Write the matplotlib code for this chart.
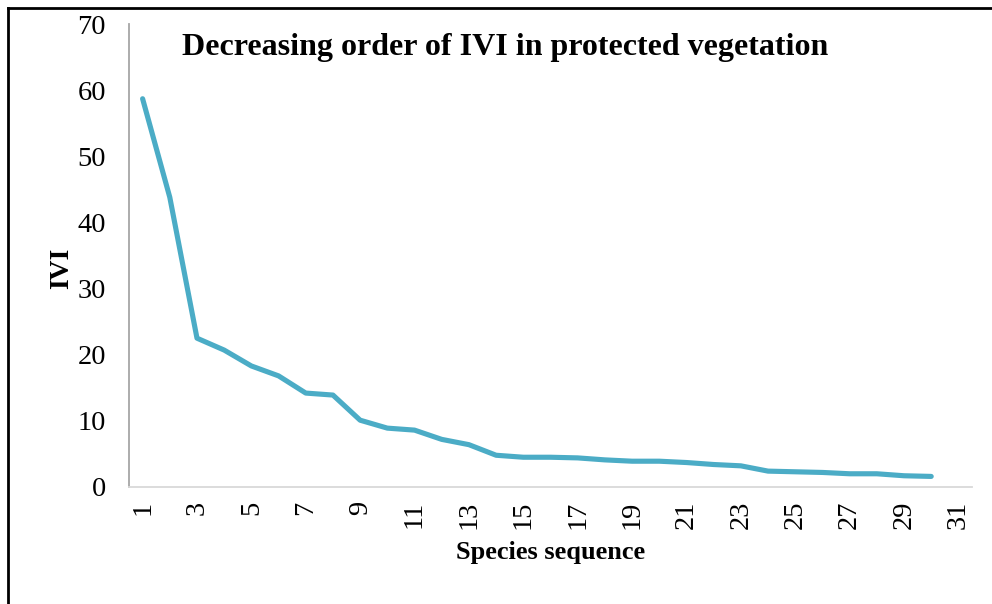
import matplotlib
matplotlib.use("Agg")
import matplotlib.pyplot as plt
from matplotlib.lines import Line2D

species = list(range(1, 31))
ivi = [58.7, 43.8, 22.5, 20.7, 18.3, 16.8, 14.2, 13.9, 10.1, 8.9,
       8.6, 7.2, 6.4, 4.8, 4.5, 4.5, 4.4, 4.1, 3.9, 3.9,
       3.7, 3.4, 3.2, 2.4, 2.3, 2.2, 2.0, 2.0, 1.7, 1.6]
xticks = list(range(1, 32, 2))
yticks = list(range(0, 71, 10))
title = "Decreasing order of IVI in protected vegetation"
xlabel = "Species sequence"
ylabel = "IVI"

plt.rcParams['font.family'] = ['Liberation Serif', 'DejaVu Serif']

fig = plt.figure(figsize=(9.92, 6.04), dpi=100)
W, H = 992, 604
ax = fig.add_axes([129 / W, 1 - 487 / H, (972 - 129) / W, (487 - 24) / H])

ax.plot(species, ivi, color='#4BACC6', linewidth=3.7, solid_capstyle='round',
        solid_joinstyle='round')
ax.set_xlim(0.5, 31.5)
ax.set_ylim(0, 70)
ax.set_xticks(xticks)
ax.set_xticklabels([str(t) for t in xticks], rotation=90, fontsize=20.5)
ax.set_yticks(yticks)
ax.set_yticklabels([str(t) for t in yticks], fontsize=20.5)
ax.tick_params(length=0)
ax.tick_params(axis='x', pad=10)
ax.tick_params(axis='y', pad=16.5)

for s in ['top', 'right']:
    ax.spines[s].set_visible(False)
ax.spines['left'].set_color('#A6A6A6')
ax.spines['bottom'].set_color('#D9D9D9')
ax.spines['left'].set_linewidth(1.3)
ax.spines['bottom'].set_linewidth(1.3)

fig.text(182 / W, 1 - 47 / H, title, fontsize=23, fontweight='bold',
         ha='left', va='center')
fig.text(551 / W, 1 - 553 / H, xlabel, fontsize=19, fontweight='bold',
         ha='center', va='center')
fig.text(62 / W, 1 - 268 / H, ylabel, fontsize=20, fontweight='bold',
         ha='center', va='center', rotation=90)

# outer frame (left and top edges)
fig.add_artist(Line2D([7.5 / W, 7.5 / W], [0, 1 - 7.5 / H], transform=fig.transFigure,
                      color='black', linewidth=2))
fig.add_artist(Line2D([7.5 / W, 1], [1 - 7.5 / H, 1 - 7.5 / H], transform=fig.transFigure,
                      color='black', linewidth=2))

fig.savefig("out.png", dpi=100)
